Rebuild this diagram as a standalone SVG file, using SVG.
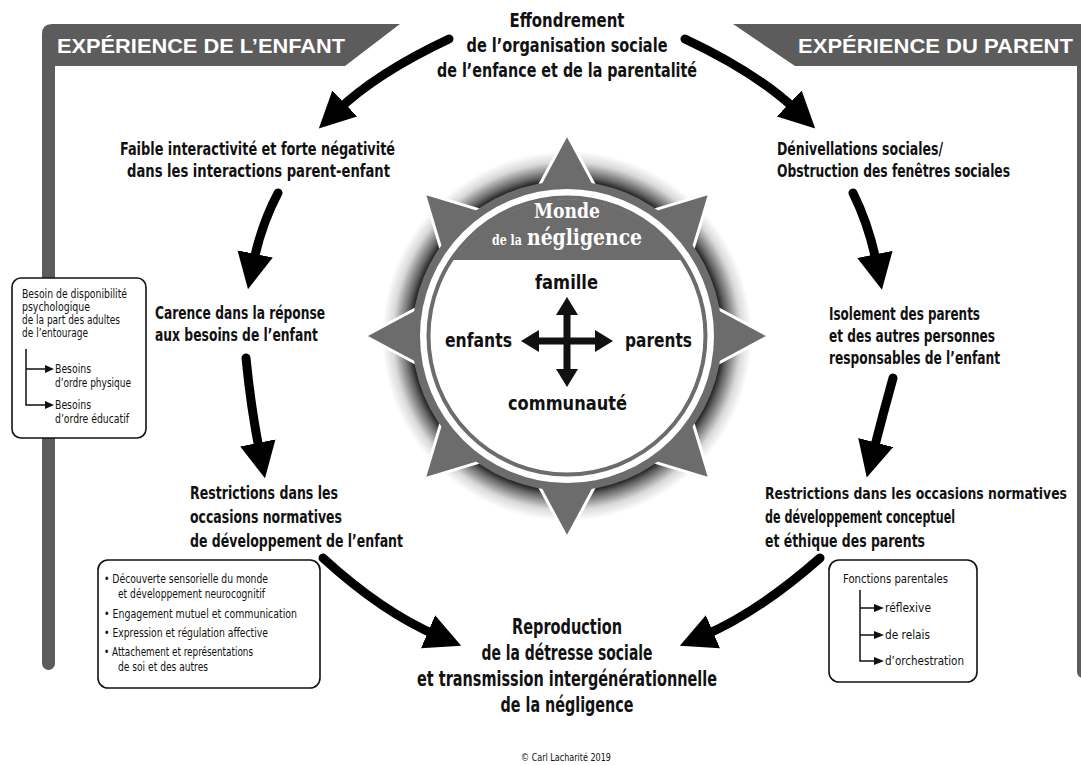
<svg xmlns="http://www.w3.org/2000/svg" width="1081" height="765" viewBox="0 0 1081 765">
<style>
text{font-family:"Liberation Sans Narrow","DejaVu Sans Condensed","Arial Narrow",sans-serif;fill:#111}
.lbl{font-weight:bold;font-size:17px}
.ttl{font-weight:bold;font-size:20px;text-anchor:middle}
.big{font-weight:bold;font-size:21.5px;text-anchor:middle}
.hdr{font-family:"Liberation Sans","Arial",sans-serif;font-weight:bold;fill:#fff;font-size:20.5px}
.sm{font-size:12px}
.sm2{font-size:12.5px}
.ctr{font-weight:bold;font-size:19.5px}
.slab{font-family:"DejaVu Serif Condensed","DejaVu Serif",serif;font-weight:bold;fill:#fff}
.box{fill:#fff;stroke:#111;stroke-width:1.6}
.bar{fill:#5c5c5c}
.gray{fill:#6c6c6c}
.conn{fill:none;stroke:#000;stroke-width:9;stroke-linecap:round;marker-end:url(#ah)}
.thin{fill:none;stroke:#111;stroke-width:1.5}
</style>
<defs>
<marker id="ah" viewBox="0 0 10 10" refX="3" refY="5" markerWidth="4" markerHeight="4" orient="auto" markerUnits="strokeWidth">
<path d="M0,0 L10,5 L0,10 z" fill="#000"/>
</marker>
<radialGradient id="halo" cx="567" cy="336" r="185" gradientUnits="userSpaceOnUse">
<stop offset="0.82" stop-color="#000" stop-opacity="1"/>
<stop offset="0.87" stop-color="#000" stop-opacity="0.6"/>
<stop offset="0.94" stop-color="#000" stop-opacity="0.15"/>
<stop offset="1" stop-color="#000" stop-opacity="0"/>
</radialGradient>
<clipPath id="inner"><circle cx="567" cy="336" r="137"/></clipPath>
<path id="tri" d="M567,134 L538,188 L596,188 Z" fill="#6c6c6c" stroke="#fff" stroke-width="3" stroke-linejoin="round"/>
</defs>
<rect width="1081" height="765" fill="#fff"/>

<g id="header-enfant">
<rect class="bar" x="42" y="30" width="13" height="640" rx="6.5"/>
<path class="bar" d="M42,34 Q42,24 52,24 L400,24 L345,66 L55,66 L42,66 Z"/>
<text class="hdr" x="57" y="53" textLength="288" lengthAdjust="spacingAndGlyphs">EXPÉRIENCE DE L’ENFANT</text>
</g>
<g id="header-parent">
<rect class="bar" x="1077" y="30" width="14" height="648" rx="6"/>
<path class="bar" d="M733,24 L1081,24 L1081,66 L795,66 Z"/>
<text class="hdr" x="798" y="53" textLength="275" lengthAdjust="spacingAndGlyphs">EXPÉRIENCE DU PARENT</text>
</g>

<g id="monde">
<circle cx="567" cy="336" r="185" fill="url(#halo)"/>
<use href="#tri"/>
<use href="#tri" transform="rotate(45 567 336)"/>
<use href="#tri" transform="rotate(90 567 336)"/>
<use href="#tri" transform="rotate(135 567 336)"/>
<use href="#tri" transform="rotate(180 567 336)"/>
<use href="#tri" transform="rotate(225 567 336)"/>
<use href="#tri" transform="rotate(270 567 336)"/>
<use href="#tri" transform="rotate(315 567 336)"/>
<circle class="gray" cx="567" cy="336" r="155"/>
<circle cx="567" cy="336" r="147" fill="#fff"/>
<circle cx="567" cy="336" r="138.5" fill="#fff" stroke="#6c6c6c" stroke-width="4"/>
<rect class="gray" x="420" y="190" width="300" height="70" clip-path="url(#inner)"/>
<text class="slab" x="534" y="218" font-size="20" textLength="66" lengthAdjust="spacingAndGlyphs">Monde</text>
<text class="slab" x="492" y="245" font-size="14" textLength="30" lengthAdjust="spacingAndGlyphs">de la</text>
<text class="slab" x="527" y="245" font-size="22" textLength="115" lengthAdjust="spacingAndGlyphs">négligence</text>
<text class="ctr" x="535" y="289" textLength="63" lengthAdjust="spacingAndGlyphs">famille</text>
<text class="ctr" x="445" y="347" textLength="67" lengthAdjust="spacingAndGlyphs">enfants</text>
<text class="ctr" x="625" y="347" textLength="67" lengthAdjust="spacingAndGlyphs">parents</text>
<text class="ctr" x="508" y="410" textLength="119" lengthAdjust="spacingAndGlyphs">communauté</text>
<g id="cross" fill="#111">
<rect x="563.5" y="312" width="7" height="58"/>
<rect x="536" y="337.5" width="62" height="7"/>
<polygon points="567,297 556,315 578,315"/>
<polygon points="567,387 556,369 578,369"/>
<polygon points="521,341 539,330 539,352"/>
<polygon points="613,341 595,330 595,352"/>
</g>
</g>

<g id="titre">
<text class="ttl" x="567" y="27" textLength="115" lengthAdjust="spacingAndGlyphs">Effondrement</text>
<text class="ttl" x="567" y="52" textLength="201" lengthAdjust="spacingAndGlyphs">de l’organisation sociale</text>
<text class="ttl" x="567" y="77" textLength="260" lengthAdjust="spacingAndGlyphs">de l’enfance et de la parentalité</text>
</g>

<g id="faible">
<text class="lbl" x="120" y="155" textLength="275" lengthAdjust="spacingAndGlyphs">Faible interactivité et forte négativité</text>
<text class="lbl" x="127" y="177" textLength="263" lengthAdjust="spacingAndGlyphs">dans les interactions parent-enfant</text>
</g>
<g id="carence">
<text class="lbl" x="155" y="319" textLength="170" lengthAdjust="spacingAndGlyphs">Carence dans la réponse</text>
<text class="lbl" x="155" y="341" textLength="163" lengthAdjust="spacingAndGlyphs">aux besoins de l’enfant</text>
</g>
<g id="restrictions-enfant">
<text class="lbl" x="190" y="499" textLength="148" lengthAdjust="spacingAndGlyphs">Restrictions dans les</text>
<text class="lbl" x="190" y="523" textLength="152" lengthAdjust="spacingAndGlyphs">occasions normatives</text>
<text class="lbl" x="190" y="547" textLength="213" lengthAdjust="spacingAndGlyphs">de développement de l’enfant</text>
</g>
<g id="denivellations">
<text class="lbl" x="777" y="155" textLength="166" lengthAdjust="spacingAndGlyphs">Dénivellations sociales/</text>
<text class="lbl" x="777" y="177" textLength="233" lengthAdjust="spacingAndGlyphs">Obstruction des fenêtres sociales</text>
</g>
<g id="isolement">
<text class="lbl" x="829" y="320" textLength="151" lengthAdjust="spacingAndGlyphs">Isolement des parents</text>
<text class="lbl" x="829" y="342" textLength="166" lengthAdjust="spacingAndGlyphs">et des autres personnes</text>
<text class="lbl" x="829" y="364" textLength="171" lengthAdjust="spacingAndGlyphs">responsables de l’enfant</text>
</g>
<g id="restrictions-parent">
<text class="lbl" x="765" y="499" font-size="15.5" style="font-size:16px" textLength="302" lengthAdjust="spacingAndGlyphs">Restrictions dans les occasions normatives</text>
<text class="lbl" x="765" y="523" textLength="190" lengthAdjust="spacingAndGlyphs">de développement conceptuel</text>
<text class="lbl" x="765" y="547" textLength="160" lengthAdjust="spacingAndGlyphs">et éthique des parents</text>
</g>
<g id="reproduction">
<text class="big" x="567" y="634" textLength="110" lengthAdjust="spacingAndGlyphs">Reproduction</text>
<text class="big" x="567" y="660" textLength="171" lengthAdjust="spacingAndGlyphs">de la détresse sociale</text>
<text class="big" x="567" y="686" textLength="300" lengthAdjust="spacingAndGlyphs">et transmission intergénérationnelle</text>
<text class="big" x="567" y="712" textLength="133" lengthAdjust="spacingAndGlyphs">de la négligence</text>
</g>

<g id="besoins-box">
<rect class="box" x="12" y="278" width="134" height="160" rx="9"/>
<text class="sm" x="22" y="298" textLength="105" lengthAdjust="spacingAndGlyphs">Besoin de disponibilité</text>
<text class="sm" x="22" y="311" textLength="68" lengthAdjust="spacingAndGlyphs">psychologique</text>
<text class="sm" x="22" y="324" textLength="98" lengthAdjust="spacingAndGlyphs">de la part des adultes</text>
<text class="sm" x="22" y="337" textLength="66" lengthAdjust="spacingAndGlyphs">de l’entourage</text>
<path class="thin" d="M26,349 V405 H46 M26,369 H46"/>
<polygon points="54,369 45,365 45,373" fill="#111"/>
<polygon points="54,405 45,401 45,409" fill="#111"/>
<text class="sm" x="55" y="373" textLength="36" lengthAdjust="spacingAndGlyphs">Besoins</text>
<text class="sm" x="55" y="387" textLength="76" lengthAdjust="spacingAndGlyphs">d’ordre physique</text>
<text class="sm" x="55" y="409" textLength="36" lengthAdjust="spacingAndGlyphs">Besoins</text>
<text class="sm" x="55" y="423" textLength="74" lengthAdjust="spacingAndGlyphs">d’ordre éducatif</text>
</g>

<g id="developpement-box">
<rect class="box" x="98" y="560" width="222" height="128" rx="10"/>
<text class="sm2" x="104" y="583" textLength="164" lengthAdjust="spacingAndGlyphs">• Découverte sensorielle du monde</text>
<text class="sm2" x="118" y="598" textLength="147" lengthAdjust="spacingAndGlyphs">et développement neurocognitif</text>
<text class="sm2" x="104" y="618" textLength="193" lengthAdjust="spacingAndGlyphs">• Engagement mutuel et communication</text>
<text class="sm2" x="104" y="637" textLength="164" lengthAdjust="spacingAndGlyphs">• Expression et régulation affective</text>
<text class="sm2" x="104" y="656" textLength="149" lengthAdjust="spacingAndGlyphs">• Attachement et représentations</text>
<text class="sm2" x="118" y="671" textLength="90" lengthAdjust="spacingAndGlyphs">de soi et des autres</text>
</g>

<g id="fonctions-box">
<rect class="box" x="829" y="560" width="148" height="122" rx="10"/>
<text class="sm2" x="843" y="583" textLength="105" lengthAdjust="spacingAndGlyphs">Fonctions parentales</text>
<path class="thin" d="M860,590 V661 H875 M860,608 H875 M860,635 H875"/>
<polygon points="884,608 874,604 874,612" fill="#111"/>
<polygon points="884,635 874,631 874,639" fill="#111"/>
<polygon points="884,661 874,657 874,665" fill="#111"/>
<text class="sm2" x="885" y="612" textLength="46" lengthAdjust="spacingAndGlyphs">réflexive</text>
<text class="sm2" x="885" y="639" textLength="45" lengthAdjust="spacingAndGlyphs">de relais</text>
<text class="sm2" x="885" y="665" textLength="79" lengthAdjust="spacingAndGlyphs">d’orchestration</text>
</g>

<g id="connectors">
<path class="conn" d="M449,39 Q376.6,73 337,111"/>
<path class="conn" d="M685,39 Q757.4,73 797,111"/>
<path class="conn" d="M278,193 Q261,225 253,264.5"/>
<path class="conn" d="M246,358 Q251,409 260,453.5"/>
<path class="conn" d="M323,558 Q382.8,612.6 438,636"/>
<path class="conn" d="M853,193 Q869,225 877,265"/>
<path class="conn" d="M893,378 Q883,414 873,453"/>
<path class="conn" d="M820,558 Q758,612.6 703,636"/>
</g>

<text x="521" y="761" font-size="10.5" fill="#222" textLength="90" lengthAdjust="spacingAndGlyphs">© Carl Lacharité 2019</text>
</svg>
